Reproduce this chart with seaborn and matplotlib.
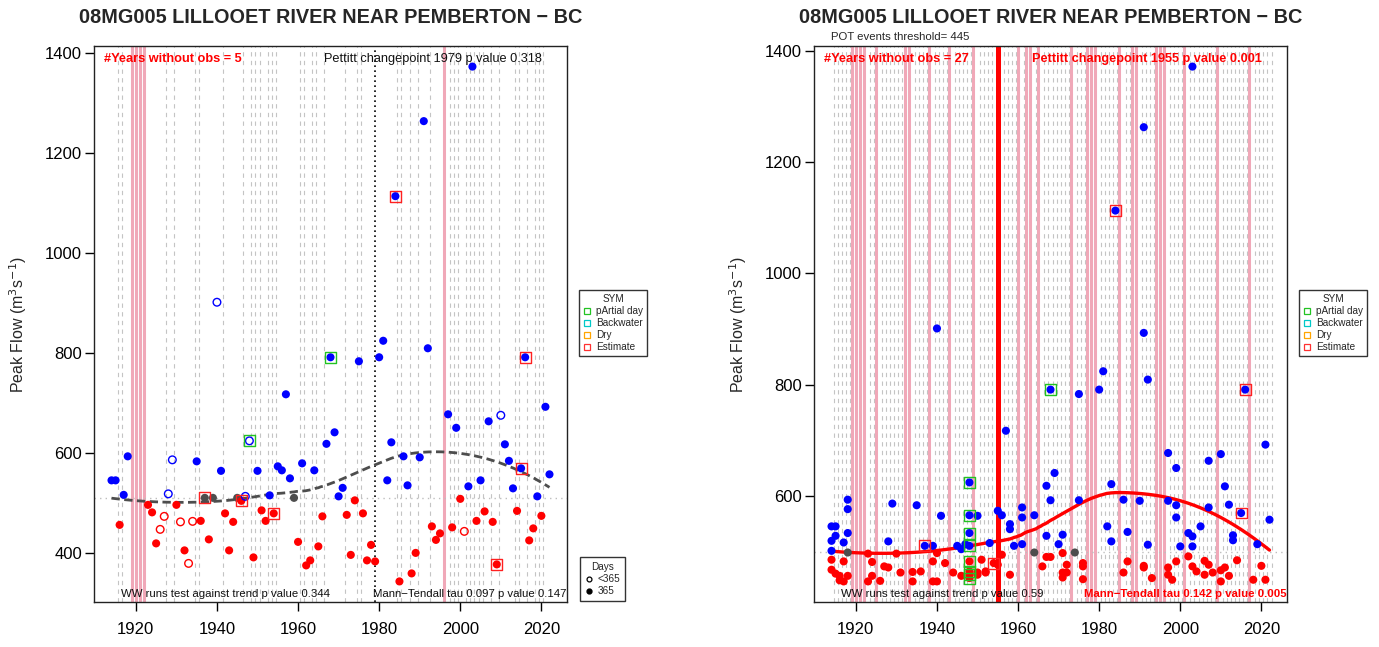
import numpy as np
import pandas as pd
import matplotlib
matplotlib.use("Agg")
import matplotlib.pyplot as plt
import seaborn as sns
from matplotlib.lines import Line2D
from matplotlib.ticker import MultipleLocator

station_title = "08MG005 LILLOOET RIVER NEAR PEMBERTON \u2212 BC"

# ---- annual peak series (left panel) ----
ann_years = list(range(1914, 1919)) + list(range(1923, 1996)) + list(range(1997, 2023))
ann_flow = [
    545, 545, 456, 516, 593,
    496, 481, 419, 447, 473, 518, 586, 496, 462, 405, 379, 463, 583, 464, 510,
    427, 510, 901, 564, 479, 405, 462, 510, 504, 513, 624, 391, 564, 485, 464,
    515, 479, 573, 565, 717, 549, 510, 422, 579, 375, 385, 565, 413, 473, 618,
    791, 641, 513, 530, 476, 396, 505, 783, 479, 385, 416, 383, 791, 824, 545,
    621, 1113, 343, 593, 535, 359, 400, 591, 1263, 809, 453, 426, 439,
    677, 451, 650, 508, 443, 533, 1372, 464, 545, 483, 663, 462, 377, 675, 617,
    584, 529, 484, 569, 791, 425, 449, 513, 474, 692, 557,
]
ann_missing = [1919, 1920, 1921, 1922, 1996]
ann_short_years = [1926, 1927, 1928, 1929, 1931, 1933, 1934, 1940, 1947, 1948, 2001, 2010]
ann_estimate = [1937, 1946, 1954, 1984, 2009, 2015, 2016]
ann_partial = [1948, 1968]
ann_median = 510
ann_pettitt = 1979
ann_dash_years = [1915, 1916, 1927, 1929, 1934, 1935, 1941, 1946, 1948, 1949, 1950,
                  1952, 1953, 1954, 1960, 1961, 1963, 1964, 1966, 1971, 1974, 1975,
                  1984, 1985, 1987, 1989, 1992, 1997, 1998, 1999, 2001, 2002, 2003,
                  2004, 2005, 2007, 2009, 2013, 2014, 2016, 2018, 2019, 2020]

# ---- POT events (right panel) ----
pot_threshold = 445
pot_events = {
    1914: [545, 519, 501, 485, 467], 1915: [545, 528, 460], 1916: [456, 448],
    1917: [516, 482, 446], 1918: [593, 576, 533, 498, 456], 1923: [496, 446],
    1924: [481, 456], 1926: [447], 1927: [473], 1928: [518, 471], 1929: [586],
    1930: [496], 1931: [462], 1934: [463, 446], 1935: [583], 1936: [464],
    1937: [510], 1939: [510, 482, 446], 1940: [901, 497, 446], 1941: [564],
    1942: [479], 1944: [462], 1945: [510], 1946: [504, 456], 1947: [513],
    1948: [624, 565, 533, 510, 482, 464, 458, 452], 1950: [564, 462, 458],
    1951: [485], 1952: [464, 462], 1953: [515], 1954: [479], 1955: [573, 476],
    1956: [565, 494], 1957: [717], 1958: [549, 540, 458], 1959: [510],
    1961: [579, 561, 513], 1964: [565, 498], 1966: [473], 1967: [618, 528, 490],
    1968: [791, 592, 490], 1969: [641], 1970: [513], 1971: [530, 497, 462, 453],
    1972: [476, 462], 1974: [498], 1975: [783, 592], 1976: [479, 473, 450],
    1980: [791], 1981: [824], 1982: [545], 1983: [621, 518], 1984: [1113],
    1986: [593, 462], 1987: [535, 482], 1990: [591], 1991: [1263, 893, 474, 471],
    1992: [809, 512], 1993: [452], 1997: [677, 591, 471, 458], 1998: [449],
    1999: [650, 583, 561, 482], 2000: [509], 2002: [533, 491],
    2003: [1372, 527, 509, 473], 2004: [464], 2005: [545], 2006: [483, 458],
    2007: [663, 579, 476], 2008: [462], 2010: [675, 466, 446], 2011: [617, 471],
    2012: [584, 456], 2013: [529, 520], 2014: [484], 2015: [569], 2016: [791],
    2018: [449], 2019: [513], 2020: [474], 2021: [692, 449], 2022: [557],
}
pot_partial = {1948: [624, 565, 533, 510, 482, 464, 458, 452], 1968: [791]}
pot_estimate = {1937: [510], 1954: [479], 1984: [1113], 2015: [569], 2016: [791]}
pot_median = 498
pot_pettitt = 1955

left_notes = ["#Years without obs = 5", "Pettitt changepoint 1979 p value 0.318",
              "WW runs test against trend p value 0.344", "Mann\u2212Tendall tau 0.097 p value 0.147"]
right_notes = ["#Years without obs = 27", "Pettitt changepoint 1955 p value 0.001",
               "WW runs test against trend p value 0.59", "Mann\u2212Tendall tau 0.142 p value 0.005"]

sym_labels = ["pArtial day", "Backwater", "Dry", "Estimate"]
sym_colors = ["#22C322", "#00C8C8", "#FFA500", "#FF3030"]

sns.set_style("ticks")
plt.rcParams["font.family"] = ["Liberation Sans", "DejaVu Sans"]
plt.rcParams["axes.linewidth"] = 1.0

palette = {"above": "#0000FF", "below": "#FF0000", "median": "#4D4D4D"}
PINK = "#F0A8B8"


def loess(x, y, grid, span=0.75):
    x = np.asarray(x, float)
    y = np.asarray(y, float)
    q = int(np.floor(span * len(x)))
    out = []
    for g in grid:
        d = np.abs(x - g)
        h = np.sort(d)[q - 1]
        w = np.clip(1 - (d / h) ** 3, 0, None) ** 3
        sw = np.sqrt(w)
        A = np.vander(x - g, 3) * sw[:, None]
        coef = np.linalg.lstsq(A, y * sw, rcond=None)[0]
        out.append(coef[-1])
    return np.array(out)


def side_of(v, med):
    return np.where(v > med, "above", np.where(v < med, "below", "median"))


def setup_axes(ax, df, missing, dash_years):
    ymin, ymax = df["flow"].min(), df["flow"].max()
    yr = ymax - ymin
    ax.set_ylim(ymin - 0.04 * yr, ymax + 0.04 * yr)
    x0, x1 = 1914, 2022
    ax.set_xlim(x0 - 0.04 * (x1 - x0), x1 + 0.04 * (x1 - x0))
    for yy in dash_years:
        ax.axvline(yy + 0.5, color="#C4C4C4", lw=0.8, ls=(0, (3.9, 3.9)), zorder=0.5)
    for yy in missing:
        ax.axvline(yy, color=PINK, lw=2.2, zorder=1)
    ax.xaxis.set_major_locator(MultipleLocator(20))
    ax.yaxis.set_major_locator(MultipleLocator(200))
    ax.tick_params(direction="out", length=6.5, width=1, labelsize=12, colors="black")
    ax.tick_params(axis="x", pad=8)
    ax.tick_params(axis="y", pad=2)
    for s in ax.spines.values():
        s.set_visible(True)
        s.set_color("#222222")


def finish_labels(ax):
    ax.set_xlabel("")
    ax.set_ylabel("Peak Flow (m$^3$s$^{-1}$)", fontsize=11.5)
    ax.yaxis.set_label_coords(-0.138, 0.5)


def notes(ax, texts, colors, weights):
    ax.text(0.021, 0.977, texts[0], transform=ax.transAxes, ha="left", va="center",
            fontsize=9.2, color=colors[0], fontweight=weights[0])
    ax.text(0.946, 0.977, texts[1], transform=ax.transAxes, ha="right", va="center",
            fontsize=9.2, color=colors[1], fontweight=weights[1])
    ax.text(0.057, 0.015, texts[2], transform=ax.transAxes, ha="left", va="center",
            fontsize=8.2, color=colors[2], fontweight=weights[2])
    ax.text(0.999, 0.015, texts[3], transform=ax.transAxes, ha="right", va="center",
            fontsize=8.2, color=colors[3], fontweight=weights[3])


fig = plt.figure(figsize=(13.79, 6.47), dpi=100)
axL = fig.add_axes([94 / 1379, 45 / 647, 473 / 1379, 556 / 647])
axR = fig.add_axes([814 / 1379, 45 / 647, 473 / 1379, 556 / 647])

# ---------------- left panel ----------------
ann = pd.DataFrame({"year": ann_years, "flow": ann_flow})
ann["side"] = side_of(ann["flow"].values, ann_median)
ann["short"] = ann["year"].isin(ann_short_years)
setup_axes(axL, ann, ann_missing, ann_dash_years)
axL.axhline(ann_median, color="#BEBEBE", lw=1, ls=(0, (1, 3)), zorder=1)
axL.axvline(ann_pettitt, color="black", lw=1.2, ls=(0, (1, 2)), zorder=2)

full = ann[~ann["short"]]
sns.scatterplot(data=full, x="year", y="flow", hue="side", palette=palette, s=34,
                linewidth=0, legend=False, ax=axL, zorder=5)
short = ann[ann["short"]]
axL.scatter(short["year"], short["flow"], s=30, facecolors="none",
            edgecolors=[palette[s] for s in short["side"]], linewidths=1, zorder=5)
est = ann[ann["year"].isin(ann_estimate)]
axL.scatter(est["year"], est["flow"], marker="s", s=62, facecolors="none",
            edgecolors="#FF2020", linewidths=1, zorder=6)
par = ann[ann["year"].isin(ann_partial)]
axL.scatter(par["year"], par["flow"], marker="s", s=62, facecolors="none",
            edgecolors="#22C322", linewidths=1, zorder=6)

grid = np.linspace(1914, 2022, 200)
sns.lineplot(x=grid, y=loess(ann["year"], ann["flow"], grid), ax=axL, color="#4D4D4D",
             lw=2, linestyle=(0, (3, 1.6)), zorder=4)
finish_labels(axL)
notes(axL, left_notes, ["#FF0000", "#111111", "#111111", "#111111"],
      ["bold", "normal", "normal", "normal"])
axL.text(0.5, 1.052, station_title, transform=axL.transAxes, ha="center", va="center",
         fontsize=14.3, fontweight="bold")

# ---------------- right panel ----------------
pot_rows = [(y, v) for y, vals in pot_events.items() for v in vals]
pot = pd.DataFrame(pot_rows, columns=["year", "flow"])
pot["side"] = side_of(pot["flow"].values, pot_median)
pot_missing = [y for y in range(1914, 2023) if y not in pot_events]
setup_axes(axR, pot, pot_missing, list(pot_events.keys()))
axR.axhline(pot_median, color="#BEBEBE", lw=1, ls=(0, (1, 3)), zorder=1)
axR.axvline(pot_pettitt, color="#FF0000", lw=3.6, zorder=2)

sns.scatterplot(data=pot, x="year", y="flow", hue="side", palette=palette, s=34,
                linewidth=0, legend=False, ax=axR, zorder=5)
for flags, col in [(pot_estimate, "#FF2020"), (pot_partial, "#22C322")]:
    fx = [y for y, vals in flags.items() for v in vals]
    fy = [v for y, vals in flags.items() for v in vals]
    axR.scatter(fx, fy, marker="s", s=62, facecolors="none", edgecolors=col,
                linewidths=1, zorder=6)

sns.lineplot(x=grid, y=loess(pot["year"], pot["flow"], grid), ax=axR, color="#FF0000",
             lw=2.4, zorder=4)
finish_labels(axR)
notes(axR, right_notes, ["#FF0000", "#FF0000", "#111111", "#FF0000"],
      ["bold", "bold", "normal", "bold"])
axR.text(0.5, 1.052, station_title, transform=axR.transAxes, ha="center", va="center",
         fontsize=14.3, fontweight="bold")
axR.text(0.036, 1.016, "POT events threshold= %d" % pot_threshold, transform=axR.transAxes,
         ha="left", va="center", fontsize=8.2)

# ---------------- legends ----------------
sym_handles = [Line2D([], [], ls="none", marker="s", markersize=4, markerfacecolor="none",
                      markeredgecolor=c, markeredgewidth=0.9) for c in sym_colors]
for xpx in (579, 1299):
    leg = fig.legend(sym_handles, sym_labels, title="SYM", loc="upper left",
                     bbox_to_anchor=(xpx / 1379, 1 - 290 / 647), bbox_transform=fig.transFigure,
                     fontsize=7.2, title_fontsize=7.2, frameon=True, fancybox=False,
                     edgecolor="black", handlelength=0.8, handletextpad=0.5,
                     labelspacing=0.2, borderpad=0.4, borderaxespad=0)
    leg.get_frame().set_linewidth(1)

day_handles = [Line2D([], [], ls="none", marker="o", markersize=3.5, markerfacecolor="none",
                      markeredgecolor="black", markeredgewidth=0.9),
               Line2D([], [], ls="none", marker="o", markersize=3.5, markerfacecolor="black",
                      markeredgecolor="black")]
leg2 = fig.legend(day_handles, ["<365", "365"], title="Days", loc="upper left",
                  bbox_to_anchor=(580 / 1379, 1 - 557 / 647), bbox_transform=fig.transFigure,
                  fontsize=7.2, title_fontsize=7.2, frameon=True, fancybox=False,
                  edgecolor="black", handlelength=0.8, handletextpad=0.5,
                  labelspacing=0.25, borderpad=0.45, borderaxespad=0)
leg2.get_frame().set_linewidth(1)

fig.savefig("out.png", dpi=100)
